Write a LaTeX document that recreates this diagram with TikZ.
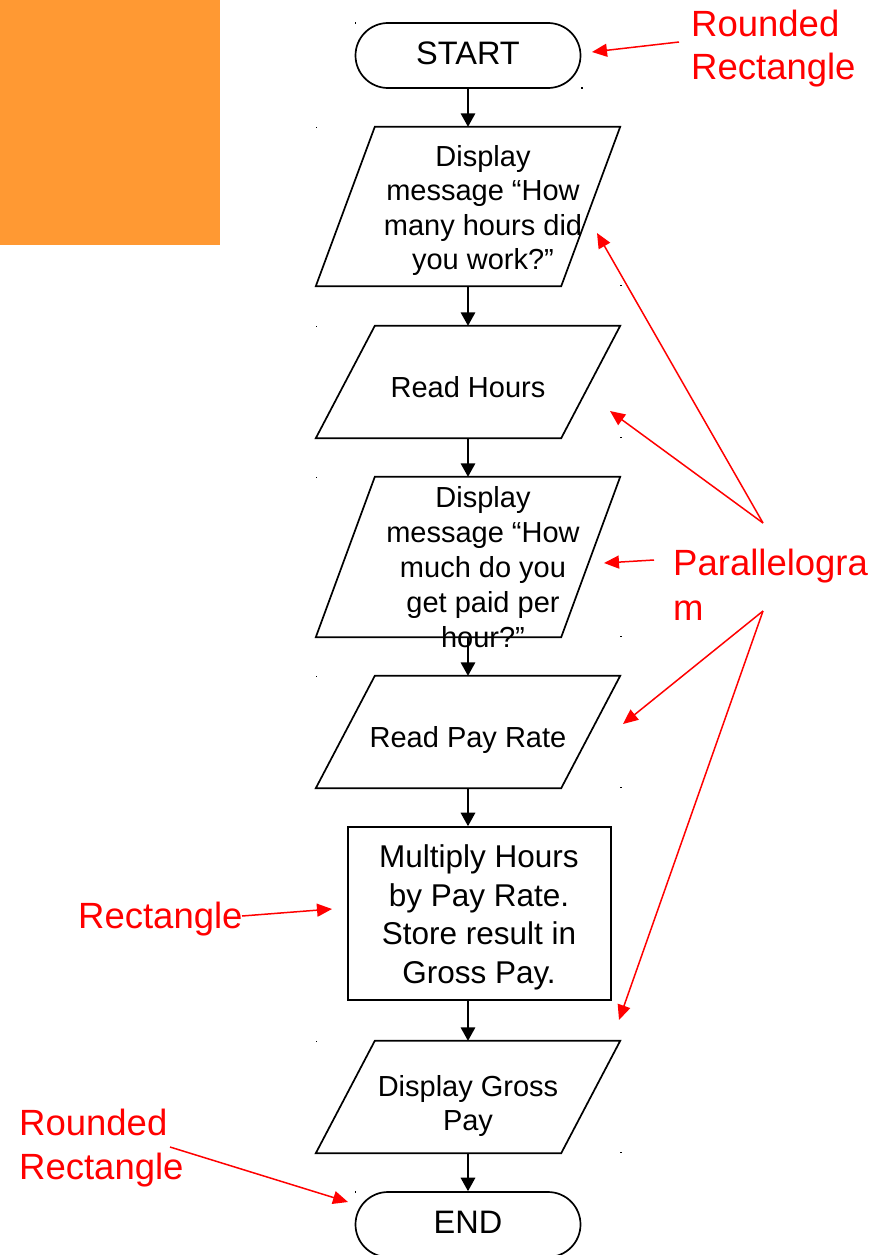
\documentclass[tikz,border=0pt]{standalone}
\usepackage{fontspec}
\setmainfont{Liberation Sans}
\usetikzlibrary{arrows.meta}
\definecolor{panelorange}{RGB}{255,153,51}
\definecolor{labelred}{RGB}{255,0,0}

\begin{document}
\begin{tikzpicture}[x=1pt,y=-1pt,
  shapeline/.style={draw=black, line width=1.7pt, line join=miter},
  terminal/.style={shapeline, rounded corners=32.5pt, minimum width=225pt, minimum height=65pt, inner sep=0},
  iobox/.style={draw=none, minimum width=304pt, inner sep=0},
  procbox/.style={shapeline, minimum width=263pt, minimum height=173pt, inner sep=0},
  flowtext/.style={font=\fontsize{29}{34.5}\selectfont, align=center, inner sep=0},
  bigtext/.style={font=\fontsize{31.5}{38.5}\selectfont, align=center, inner sep=0},
  termtext/.style={font=\fontsize{32.5}{38}\selectfont, inner sep=0},
  redlabel/.style={text=labelred, font=\fontsize{36.5}{43}\selectfont, anchor=base west, inner sep=0},
  flow/.style={draw=black, line width=1.7pt, -{Triangle[length=13.5pt,width=14.5pt]}},
  pointer/.style={draw=labelred, line width=1.5pt, -{Triangle[length=15pt,width=13pt]}},
  corner/.style={fill=black}
]
\useasboundingbox (0,0) rectangle (884,1255);

% orange panel in the upper left
\fill[panelorange] (0,0) rectangle (220,245);

% flowchart shapes
\node[terminal] (start) at (468,55.5) {};
\node[iobox, minimum height=159pt] (d1) at (468,206.5) {};
\node[iobox, minimum height=112pt] (d2) at (468,382) {};
\node[iobox, minimum height=160pt] (d3) at (468,557) {};
\node[iobox, minimum height=112pt] (d4) at (468,732) {};
\node[procbox] (calc) at (479.5,913.5) {};
\node[iobox, minimum height=112pt] (d5) at (468,1097) {};
\node[terminal] (end) at (468,1224.5) {};

% parallelograms (input / output)
\foreach \n in {d1,d2,d3,d4,d5}{
  \draw[shapeline] ([xshift=59pt]\n.north west) -- (\n.north east)
    -- ([xshift=-59pt]\n.south east) -- (\n.south west) -- cycle;
  \fill[corner] (\n.north west) rectangle +(1.5,1.5);
  \fill[corner] (\n.south east) rectangle +(1.5,-1.5);
}
\fill[corner] (start.north west) rectangle +(1.5,1.5);
\fill[corner] (start.south east) rectangle +(1.5,-1.5);
\fill[corner] (end.north west) rectangle +(1.5,1.5);

% texts inside the shapes (multi-line nodes sit on their last baseline)
\node[termtext, anchor=base] (tstart) at (468,65) {START};
\node[flowtext, anchor=base, font=\fontsize{29}{34.3}\selectfont] (t1) at (483,269.5) {Display\\message “How\\many hours did\\you work?”};
\node[flowtext, anchor=base] (t2) at (468,397) {Read Hours};
\node[flowtext, anchor=base, font=\fontsize{29}{35}\selectfont] (t3) at (483,647) {Display\\message “How\\much do you\\get paid per\\hour?”};
\node[flowtext, anchor=base] (t4) at (468,747) {Read Pay Rate};
\node[bigtext, anchor=base] (t5) at (479,983) {Multiply Hours\\by Pay Rate.\\Store result in\\Gross Pay.};
\node[flowtext, anchor=base, font=\fontsize{29}{34}\selectfont] (t6) at (468,1130) {Display Gross\\Pay};
\node[termtext, anchor=base] (tend) at (468,1233) {END};

% flow arrows
\draw[flow] (start.south) -- (d1.north);
\draw[flow] (d1.south) -- (d2.north);
\draw[flow] (d2.south) -- (d3.north);
\draw[flow] (d3.south) -- (d4.north);
\draw[flow] (d4.south) -- (d4.south |- calc.north);
\draw[flow] (d4.south |- calc.south) -- (d5.north);
\draw[flow] (d5.south) -- (end.north);

% red annotations
\node[redlabel] (lab1a) at (691,37) {Rounded};
\node[redlabel] (lab1b) at (691,80) {Rectangle};
\node[redlabel] (lab2a) at (673,575) {Parallelogra};
\node[redlabel] (lab2b) at (673,620) {m};
\node[redlabel] (lab3) at (78,928) {Rectangle};
\node[redlabel] (lab4a) at (19,1135) {Rounded};
\node[redlabel] (lab4b) at (19,1179) {Rectangle};

\coordinate (fanA) at (763,523);
\coordinate (fanB) at (763,611);
\coordinate (tail1) at (679,42);
\coordinate (tail3) at (654,560);
\coordinate (tail5) at (242,916);
\coordinate (tail6) at (170,1147);
\coordinate (tipS) at (592,52);
\coordinate (tipD1) at (597,233);
\coordinate (tipD2) at (610,411);
\coordinate (tipD3) at (604,563);
\coordinate (tipD4) at (623,724);
\coordinate (tipD5) at (619,1020);
\coordinate (tipR) at (332,909);
\coordinate (tipE) at (348,1202);

\draw[pointer] (tail1) -- (tipS);
\draw[pointer] (fanA) -- (tipD1);
\draw[pointer] (fanA) -- (tipD2);
\draw[pointer] (tail3) -- (tipD3);
\draw[pointer] (fanB) -- (tipD4);
\draw[pointer] (fanB) -- (tipD5);
\draw[pointer] (tail5) -- (tipR);
\draw[pointer] (tail6) -- (tipE);
\end{tikzpicture}
\end{document}
